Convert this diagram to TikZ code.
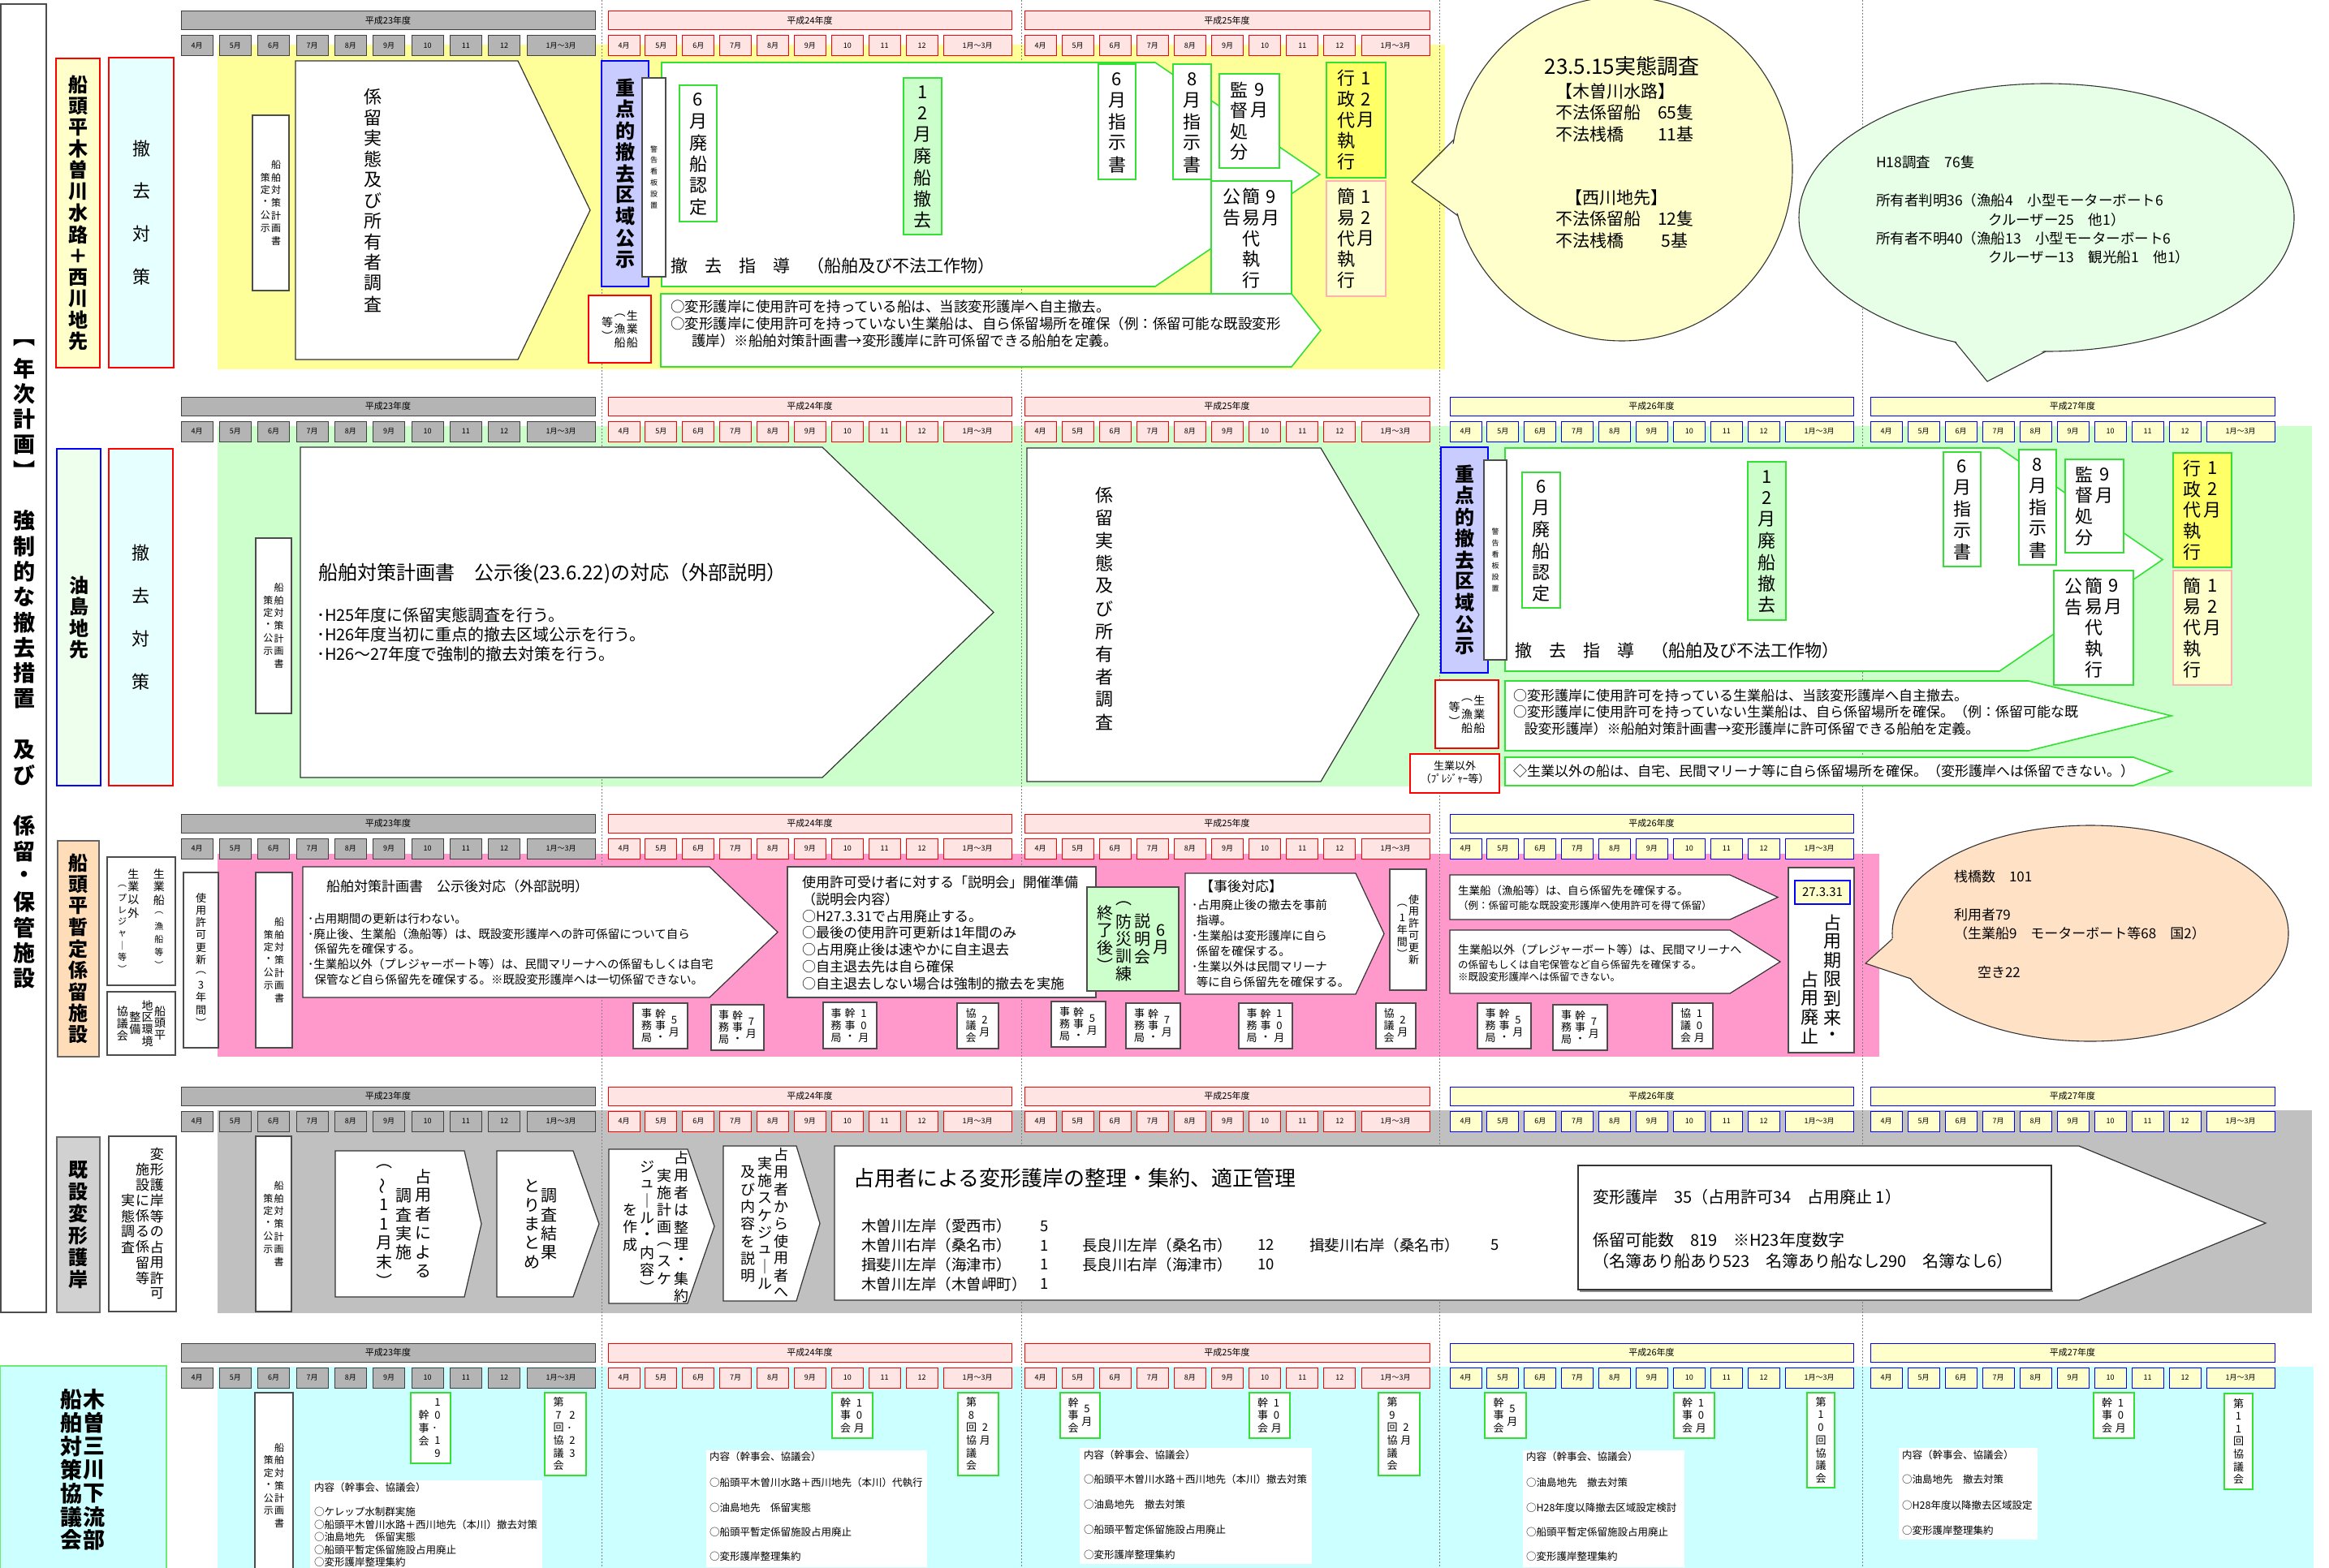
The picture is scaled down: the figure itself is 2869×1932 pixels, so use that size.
\documentclass[tikz,border=0pt]{standalone}
\usepackage{fontspec}
\usepackage{graphicx}
\setmainfont{Noto Sans CJK JP}
\definecolor{ybg}{HTML}{FFFF99}
\definecolor{gbg}{HTML}{CCFFCC}
\definecolor{pbg}{HTML}{FF99CC}
\definecolor{kbg}{HTML}{C0C0C0}
\definecolor{cbg}{HTML}{CCFFFF}
\definecolor{grn}{HTML}{33E033}
\definecolor{lcyan}{HTML}{E6FFFF}
\definecolor{lyel}{HTML}{FFFFCC}
\definecolor{lgrn}{HTML}{EEFFEE}
\definecolor{peach}{HTML}{FFDDB8}
\definecolor{lblue}{HTML}{C8CCFF}
\definecolor{ltpink}{HTML}{FFE4E4}
\definecolor{hgray}{HTML}{B4B4B4}
\definecolor{dyel}{HTML}{FFFF66}
\definecolor{pinkb}{HTML}{FFB0B0}
\definecolor{bgreen}{HTML}{E6FFE6}
\definecolor{bpeach}{HTML}{FFE2C6}
\newcommand\fs[2]{\fontsize{#1}{#2}\selectfont}
\newcommand\vcw{1.1em}
\newcommand\sm{\fs{11}{11}}
\ExplSyntaxOn
\NewDocumentCommand\VC{O{1.15}m}{
  \ensuremath{\vcenter{\offinterlineskip
    \tl_map_inline:nn{#2}{\hbox to \vcw{\hss\vbox to #1em{\vss\hbox{##1}\vss}\hss}}}}
}
\NewDocumentCommand\VT{O{1.15}m}{
  \vtop{\offinterlineskip
    \tl_map_inline:nn{#2}{\hbox to \vcw{\hss\vbox to #1em{\vss\hbox{##1}\vss}\hss}}}
}
\ExplSyntaxOff
\tikzset{
 every node/.style={inner sep=0pt, outer sep=0pt, text=black},
 bxw/.style={draw=black!70, fill=white, line width=1.1pt},
 gb/.style={draw=grn, fill=white, line width=1.6pt},
 rb/.style={draw=red, fill=white, line width=1.3pt},
 yh23/.style={draw=black!75, fill=hgray, line width=1pt},
 yh24/.style={draw=red, fill=ltpink, line width=1pt},
 yh26/.style={draw=blue, fill=lyel, line width=1pt},
 arw/.style={draw=black!80, fill=white, line width=1.2pt},
 garw/.style={draw=grn, fill=white, line width=1.6pt},
 sepl/.style={draw=black!50, dash pattern=on 2pt off 2pt, line width=0.9pt},
 bub/.style={draw=black!80, line width=1.1pt},
 ml/.style={anchor=west, align=left},
}
\newcommand\B[7][]{\node[#1, minimum width={(#5-#3)*1pt}, minimum height={(#6-#4)*1pt}] (#2) at ({(#3+#5)/2},{(#4+#6)/2}) {#7};}
\newcommand\pent[6][]{\draw[#1] (#2,#3) -- (#4,#3) -- (#5,{(#3+#6)/2}) -- (#4,#6) -- (#2,#6) -- cycle;}
\newcommand\yh[5]{%
  \node[#4, minimum width={#2*1pt}, minimum height=23pt, anchor=north west] (yr#5-#3) at (#1,#3) {\fs{11}{11}平成#5年度};
  \pgfmathsetmacro\pp{(#2-84)/9}
  \foreach \m [count=\i from 0] in {4月,5月,6月,7月,8月,9月,10,11,12} {
    \node[#4, minimum width=39pt, minimum height=25pt, anchor=north west] (m#5-#3-\i) at ({#1+\i*\pp},{#3+30}) {\fs{9}{9}\m};
  }
  \node[#4, minimum width=84pt, minimum height=25pt, anchor=north west] (m#5-#3-9) at ({#1+#2-84},{#3+30}) {\fs{9}{9}1月～3月};
}
\newcommand\plan[5]{\B[bxw]{#1}{#2}{#3}{#4}{#5}{\fs{12}{12}\VC[1.3]{策定・公示}\VC[1.3]{船舶対策計画書}}}
\newcommand\jm[6]{\B[bxw]{#1}{#2}{#3}{#4}{#5}{\fs{13}{13}\def\vcw{1.3em}\VC[1.15]{事務局}\VC[1.15]{幹事・}\VC[1.15]{#6}}}
\newcommand\kg[6]{\B[bxw]{#1}{#2}{#3}{#4}{#5}{\fs{13}{13}\def\vcw{1.3em}\VC[1.15]{協議会}\VC[1.15]{#6}}}
\newcommand\kj[6]{\B[gb]{#1}{#2}{#3}{#4}{#5}{\fs{13}{13}\def\vcw{1.3em}\VC[1.2]{幹事会}\VC[1.2]{#6}}}
\newcommand\kk[6]{\B[gb]{#1}{#2}{#3}{#4}{#5}{\fs{13}{13}\def\vcw{1.3em}\VC[1.2]{第#6回協議会}\VC[1.2]{2月}}}
\begin{document}
\begin{tikzpicture}[x=1pt,y=-1pt]
\useasboundingbox (0,0) rectangle (2869,1932);
\fill[white] (0,0) rectangle (2869,1932);
% ---------- band backgrounds
\fill[ybg] (268,55) rectangle (1780,455);
\fill[gbg] (268,525) rectangle (2848,969);
\fill[pbg] (268,1052) rectangle (2315,1302);
\fill[kbg] (268,1368) rectangle (2848,1618);
\fill[cbg] (268,1684) rectangle (2850,1932);
\foreach \sx in {741,1258,1773,2294} \draw[sepl] (\sx,0) -- (\sx,1932);
% ---------- headers
\yh{223}{510}{14}{yh23}{23}\yh{749}{497}{14}{yh24}{24}\yh{1262}{499}{14}{yh24}{25}
\yh{223}{510}{489}{yh23}{23}\yh{749}{497}{489}{yh24}{24}\yh{1262}{499}{489}{yh24}{25}\yh{1786}{497}{489}{yh26}{26}\yh{2304}{498}{489}{yh26}{27}
\yh{223}{510}{1003}{yh23}{23}\yh{749}{497}{1003}{yh24}{24}\yh{1262}{499}{1003}{yh24}{25}\yh{1786}{497}{1003}{yh26}{26}
\yh{223}{510}{1339}{yh23}{23}\yh{749}{497}{1339}{yh24}{24}\yh{1262}{499}{1339}{yh24}{25}\yh{1786}{497}{1339}{yh26}{26}\yh{2304}{498}{1339}{yh26}{27}
\yh{223}{510}{1655}{yh23}{23}\yh{749}{497}{1655}{yh24}{24}\yh{1262}{499}{1655}{yh24}{25}\yh{1786}{497}{1655}{yh26}{26}\yh{2304}{498}{1655}{yh26}{27}
% ---------- left frame
\draw[black!70, line width=1.3pt] (1,5) rectangle (57,1617);
\node (mainlab) at (30,814) {\fs{27}{27}\bfseries\VC[1.16]{︻年次計画︼~強制的な撤去措置~及び~係留・保管施設}};
% ================= ROW 1
\B[draw=red, fill=lyel, line width=1.3pt]{r1lab}{69}{72}{123}{453}{\fs{24}{24}\bfseries\VC[1.1]{船頭平木曽川水路＋西川地先}}
\B[draw=red, fill=lcyan, line width=1.3pt]{r1tai}{134}{71}{214}{453}{\fs{22}{22}\VC[2.4]{撤去対策}}
\plan{r1plan}{311}{142}{356}{358}
\pent[arw]{364}{75}{638}{727}{443}
\node (r1chosa) at (459,247) {\fs{22}{22}\VC[1.16]{係留実態及び所有者調査}};
\pent[garw]{815}{77}{1423}{1626}{353}
\B[draw=blue, fill=lblue, line width=1.3pt]{r1juten}{741}{75}{799}{353}{\fs{24}{24}\bfseries\VC[1.1]{重点的撤去区域公示}}
\B[bxw]{r1kanban}{791}{96}{820}{341}{\fs{9}{9}\VC[1.55]{警告看板設置}}
\B[gb]{r1haisen}{837}{105}{883}{273}{\fs{22}{22}\VC[1.2]{6月廃船認定}}
\B[gb, fill=gbg]{r1tekkyo}{1113}{96}{1160}{289}{\fs{22}{22}\VC[1.2]{12月廃船撤去}}
\node[anchor=west] (r1shido) at (826,328) {\fs{21}{21}撤　去　指　導　（船舶及び不法工作物）};
\B[gb]{r1shiji6}{1353}{79}{1399}{221}{\fs{22}{22}\VC[1.2]{6月指示書}}
\B[gb]{r1shiji8}{1445}{79}{1492}{221}{\fs{22}{22}\VC[1.2]{8月指示書}}
\B[gb]{r1kantoku}{1502}{91}{1576}{207}{\fs{22}{22}\VT[1.17]{監督処分}\VT[1.17]{9月}}
\B[gb]{r1kokoku}{1492}{223}{1591}{365}{\fs{22}{22}\VT[1.17]{公告}\VT[1.17]{簡易代執行}\VT[1.17]{9月}}
\B[draw=grn, fill=dyel, line width=1.6pt]{r1gyosei}{1634}{77}{1707}{219}{\fs{22}{22}\VT[1.17]{行政代執行}\VT[1.17]{12月}}
\B[draw=pinkb, fill=lyel, line width=1.3pt]{r1kani}{1634}{223}{1707}{365}{\fs{22}{22}\VT[1.17]{簡易代執行}\VT[1.17]{12月}}
\B[rb]{r1seigyo}{725}{364}{802}{447}{\fs{14}{14}\VC[1.2]{等︶}\VC[1.2]{︵漁船}\VC[1.2]{生業船}}
\pent[garw]{814}{362}{1591}{1627}{452}
\node[ml, font=\fs{17.5}{21}] (r1txt) at (826,399) {○変形護岸に使用許可を持っている船は、当該変形護岸へ自主撤去。\\○変形護岸に使用許可を持っていない生業船は、自ら係留場所を確保（例：係留可能な既設変形\\\hspace*{1.5em}護岸）※船舶対策計画書→変形護岸に許可係留できる船舶を定義。};
% bubble 1
\draw[bub, fill=lyel] (1998,208) ellipse [x radius=210pt, y radius=212pt];
\fill[lyel] (1796,172) -- (1739,224) -- (1800,266) -- cycle;
\draw[bub] (1791,172) -- (1739,224) -- (1796,266);
\node (b1t) at (1998,82) {\fs{26}{26}23.5.15実態調査};
\node[ml, font=\fs{21}{26.5}] (b1a) at (1916,138.5) {【木曽川水路】\\不法係留船　65隻\\不法桟橋　　11基};
\node[ml, font=\fs{21}{26.5}] (b1b) at (1916,269.5) {\hspace*{0.6em}【西川地先】\\不法係留船　12隻\\不法桟橋　　 5基};
% bubble 2
\draw[bub, fill=bgreen] (2521,268) ellipse [x radius=305pt, y radius=165pt];
\fill[bgreen] (2405,415) -- (2448,470) -- (2525,428) -- cycle;
\draw[bub] (2408,421) -- (2448,470) -- (2520,433);
\node[anchor=west] (b2a) at (2311,200) {\fs{17.5}{17.5}H18調査　76隻};
\node[ml, font=\fs{17.5}{23.3}] (b2b) at (2311,282) {所有者判明36（漁船4　小型モーターボート6\\\hspace*{7.9em}クルーザー25　他1）\\所有者不明40（漁船13　小型モーターボート6\\\hspace*{7.9em}クルーザー13　観光船1　他1）};
% ================= ROW 2
\B[draw=blue, fill=lgrn, line width=1.3pt]{r2lab}{70}{553}{124}{968}{\fs{24}{24}\bfseries\VC[1.1]{油島地先}}
\B[draw=red, fill=lcyan, line width=1.3pt]{r2tai}{134}{553}{213}{968}{\fs{22}{22}\VC[2.4]{撤去対策}}
\plan{r2plan}{315}{663}{359}{879}
\pent[arw]{370}{551}{1013}{1224}{958}
\node[anchor=west] (r2title) at (392,707) {\fs{24}{24}船舶対策計画書　公示後(23.6.22)の対応（外部説明）};
\node[ml, font=\fs{20}{24}] (r2bul) at (390,782) {･H25年度に係留実態調査を行う。\\･H26年度当初に重点的撤去区域公示を行う。\\･H26～27年度で強制的撤去対策を行う。};
\pent[arw]{1265}{552}{1627}{1748}{963}
\node (r2chosa) at (1360,750) {\fs{22}{22}\VC[1.27]{係留実態及び所有者調査}};
\pent[garw]{1854}{552}{2463}{2664}{827}
\B[draw=blue, fill=lblue, line width=1.3pt]{r2juten}{1775}{551}{1833}{829}{\fs{24}{24}\bfseries\VC[1.1]{重点的撤去区域公示}}
\B[bxw]{r2kanban}{1828}{567}{1856}{813}{\fs{9}{9}\VC[1.55]{警告看板設置}}
\B[gb]{r2haisen}{1875}{582}{1922}{749}{\fs{22}{22}\VC[1.2]{6月廃船認定}}
\B[gb, fill=gbg]{r2tekkyo}{2153}{569}{2200}{764}{\fs{22}{22}\VC[1.2]{12月廃船撤去}}
\node[anchor=west] (r2shido) at (1866,802) {\fs{21}{21}撤　去　指　導　（船舶及び不法工作物）};
\B[gb]{r2shiji6}{2394}{557}{2440}{698}{\fs{22}{22}\VC[1.2]{6月指示書}}
\B[gb]{r2shiji8}{2487}{554}{2533}{696}{\fs{22}{22}\VC[1.2]{8月指示書}}
\B[gb]{r2kantoku}{2544}{566}{2616}{681}{\fs{22}{22}\VT[1.17]{監督処分}\VT[1.17]{9月}}
\B[gb]{r2kokoku}{2530}{703}{2628}{844}{\fs{22}{22}\VT[1.17]{公告}\VT[1.17]{簡易代執行}\VT[1.17]{9月}}
\B[draw=grn, fill=dyel, line width=1.6pt]{r2gyosei}{2677}{558}{2749}{699}{\fs{22}{22}\VT[1.17]{行政代執行}\VT[1.17]{12月}}
\B[draw=pinkb, fill=lyel, line width=1.3pt]{r2kani}{2677}{703}{2749}{844}{\fs{22}{22}\VT[1.17]{簡易代執行}\VT[1.17]{12月}}
\B[rb]{r2seigyo}{1768}{838}{1846}{922}{\fs{14}{14}\VC[1.2]{等︶}\VC[1.2]{︵漁船}\VC[1.2]{生業船}}
\pent[garw]{1854}{839}{2499}{2675}{925}
\node[ml, font=\fs{17}{20.5}] (r2txt) at (1864,877.5) {○変形護岸に使用許可を持っている生業船は、当該変形護岸へ自主撤去。\\○変形護岸に使用許可を持っていない生業船は、自ら係留場所を確保。（例：係留可能な既\\\hspace*{0.8em}設変形護岸）※船舶対策計画書→変形護岸に許可係留できる船舶を定義。};
\B[rb]{r2other}{1737}{929}{1847}{977}{\fs{13}{15}\begin{tabular}{@{}c@{}}生業以外\\（ﾌﾟﾚｼﾞｬｰ等）\end{tabular}}
\pent[garw]{1854}{933}{2628}{2675}{968}
\node[anchor=west] (r2txt2) at (1864,950) {\fs{17}{17}◇生業以外の船は、自宅、民間マリーナ等に自ら係留場所を確保。（変形護岸へは係留できない。）};
% ================= ROW 3
\B[draw=black!60, fill=peach, line width=1.2pt]{r3lab}{71}{1036}{122}{1302}{\fs{24}{24}\bfseries\VC[1.1]{船頭平暫定係留施設}}
\B[bxw]{r3sub1}{132}{1056}{216}{1214}{{\fs{11}{11}\VT[1.33]{~︵プレジャ｜等︶}}{\fs{14}{14}\VT[1.15]{生業以外}}\hspace{16pt}{\fs{14}{14}\VT[1.15]{生業船{\sm ︵}{\sm 漁}{\sm 船}{\sm 等}{\sm ︶}}}}
\B[bxw]{r3sub2}{132}{1222}{216}{1300}{\fs{14}{14}\VC[1.07]{協議会}\VC[1.07]{整備}\VC[1.07]{地区環境}\VC[1.07]{船頭平}}
\B[bxw]{r3kyoka3}{226}{1075}{269}{1291}{\fs{13}{13}\VC[1.18]{使用許可更新︵3年間︶}}
\plan{r3plan}{315}{1075}{360}{1291}
\pent[arw]{373}{1068}{874}{958}{1229}
\node[anchor=west] (r3title) at (402,1092) {\fs{17}{17}船舶対策計画書　公示後対応（外部説明）};
\node[ml, font=\fs{14.5}{18.75}] (r3txt) at (379,1169.5) {･占用期間の更新は行わない。\\･廃止後、生業船（漁船等）は、既設変形護岸への許可係留について自ら\\\hspace*{0.6em}係留先を確保する。\\･生業船以外（プレジャーボート等）は、民間マリーナへの係留もしくは自宅\\\hspace*{0.6em}保管など自ら係留先を確保する。※既設変形護岸へは一切係留できない。};
\B[bxw]{r3setsu}{970}{1068}{1350}{1229}{}
\node[ml, font=\fs{17}{20.8}] (r3setsut) at (988,1149.5) {使用許可受け者に対する「説明会」開催準備\\（説明会内容）\\○H27.3.31で占用廃止する。\\○最後の使用許可更新は1年間のみ\\○占用廃止後は速やかに自主退去\\○自主退去先は自ら確保\\○自主退去しない場合は強制的撤去を実施};
\B[draw=black!70, fill=gbg, line width=1.2pt]{r3kunren}{1339}{1093}{1452}{1221}{\fs{20}{20}\def\vcw{1.15em}\VC[1.08]{終了後︶}\VC[1.08]{︵防災訓練}\VC[1.08]{説明会}\VC[1.08]{6月}}
\pent[arw]{1460}{1076}{1670}{1705}{1225}
\node[anchor=west] (r3zigo) at (1478,1092) {\fs{17}{17}【事後対応】};
\node[ml, font=\fs{14.5}{19}] (r3zigot) at (1468,1162.5) {･占用廃止後の撤去を事前\\\hspace*{0.4em}指導。\\･生業船は変形護岸に自ら\\\hspace*{0.4em}係留を確保する。\\･生業以外は民間マリーナ\\\hspace*{0.4em}等に自ら係留先を確保する。};
\B[bxw]{r3kyoka1}{1712}{1071}{1757}{1220}{\fs{13}{13}\VC[1.15]{︵1年間︶}\VC[1.15]{使用許可更新}}
\pent[arw]{1786}{1078}{2131}{2190}{1133}
\node[anchor=west] (r3a1) at (1796,1097) {\fs{13.5}{13.5}生業船（漁船等）は、自ら係留先を確保する。};
\node[anchor=west] (r3a2) at (1796,1116) {\fs{12.5}{12.5}（例：係留可能な既設変形護岸へ使用許可を得て係留）};
\pent[arw]{1786}{1146}{2131}{2193}{1224}
\node[anchor=west] (r3b1) at (1796,1170) {\fs{14}{14}生業船以外（プレジャーボート等）は、民間マリーナへ};
\node[ml, font=\fs{12.5}{15}] (r3b2) at (1796,1196.5) {の係留もしくは自宅保管など自ら係留先を確保する。\\※既設変形護岸へは係留できない。};
\B[bxw]{r3kigen}{2203}{1069}{2284}{1297}{}
\B[draw=blue, fill=lyel, line width=1.2pt]{r3date}{2211}{1085}{2279}{1114}{\fs{15}{15}27.3.31}
\node (r3kigent) at (2243.5,1207) {\fs{22}{22}\def\vcw{1.3em}\VT[1.06]{~~~占用廃止}\VT[1.06]{占用期限到来・}};
\jm{r3j1}{780}{1236}{847}{1292}{5月}
\jm{r3j2}{876}{1238}{941}{1294}{7月}
\jm{r3j3}{1014}{1235}{1080}{1292}{10月}
\kg{r3j4}{1179}{1236}{1230}{1292}{2月}
\jm{r3j5}{1295}{1234}{1362}{1290}{5月}
\jm{r3j6}{1387}{1236}{1454}{1292}{7月}
\jm{r3j7}{1526}{1236}{1592}{1292}{10月}
\kg{r3j8}{1695}{1236}{1744}{1292}{2月}
\jm{r3j9}{1820}{1236}{1886}{1292}{5月}
\jm{r3j10}{1913}{1238}{1980}{1294}{7月}
\kg{r3j11}{2060}{1236}{2110}{1292}{10月}
% bubble 3
\draw[bub, fill=bpeach] (2575,1150) ellipse [x radius=244pt, y radius=133pt];
\fill[bpeach] (2336,1152) -- (2298,1187) -- (2362,1208) -- cycle;
\draw[bub] (2331,1157) -- (2298,1187) -- (2354,1206);
\node[anchor=west] (b3a) at (2407,1080) {\fs{17}{17}桟橋数　101};
\node[ml, font=\fs{17}{23}] (b3b) at (2407,1138.5) {利用者79\\（生業船9　モーターボート等68　国2）};
\node[anchor=west] (b3c) at (2436,1198) {\fs{17}{17}空き22};
% ================= ROW 4
\B[draw=black!60, fill=black!18, line width=1.2pt]{r4lab}{70}{1401}{123}{1617}{\fs{24}{24}\bfseries\VC[1.12]{既設変形護岸}}
\B[bxw]{r4sub}{134}{1400}{217}{1616}{\fs{17}{17}\def\vcw{1.05em}\VC[1.12]{実態調査}\VC[1.12]{施設に係る係留等}\VC[1.12]{変形護岸等の占用許可}}
\plan{r4plan}{315}{1400}{359}{1616}
\pent[arw]{413}{1418}{572}{593}{1598}
\node (r4t1) at (497,1508) {\fs{20}{20}\def\vcw{1.2em}\VC[1.17]{︵{\rotatebox{90}{～}}11月末︶}\VC[1.17]{調査実施}\VC[1.17]{占用者による}};
\pent[arw]{612}{1418}{706}{738}{1598}
\node (r4t2) at (666,1508) {\fs{20}{20}\def\vcw{1.05em}\VC[1.17]{とりまとめ}\VC[1.17]{調査結果}};
\pent[arw]{750}{1416}{847}{880}{1606}
\node (r4t3) at (808,1512) {\fs{18}{18}\def\vcw{1.15em}\VC[1.18]{を作成}\VC[1.18]{ジュ｜ル・内容︶}\VC[1.18]{実施計画︵スケ}\VC[1.18]{占用者は整理・集約}};
\pent[arw]{891}{1412}{981}{1010}{1603}
\node (r4t4) at (942,1508) {\fs{18}{18}\def\vcw{1.12em}\VC[1.18]{及び内容を説明}\VC[1.18]{実施スケジュ｜ル}\VC[1.18]{占用者から使用者へ}};
\pent[arw]{1028}{1412}{2561}{2791}{1602}
\node[anchor=west] (r4title) at (1051,1452) {\fs{26}{26}占用者による変形護岸の整理・集約、適正管理};
\node[ml, font=\fs{18.5}{23.7}] (r4l1) at (1061,1546.5) {木曽川左岸（愛西市）\\木曽川右岸（桑名市）\\揖斐川左岸（海津市）\\木曽川左岸（木曽岬町）};
\node[ml, font=\fs{18.5}{23.7}] (r4n1) at (1281,1546.5) {5\\1\\1\\1};
\node[ml, font=\fs{18.5}{24}] (r4l2) at (1333,1546) {長良川左岸（桑名市）\\長良川右岸（海津市）};
\node[ml, font=\fs{18.5}{24}] (r4n2) at (1549,1546) {12\\10};
\node[anchor=west] (r4l3) at (1613,1534) {\fs{18.5}{18.5}揖斐川右岸（桑名市）};
\node[anchor=west] (r4n3) at (1836,1534) {\fs{18.5}{18.5}5};
\draw[black!45, line width=2.5pt] (1946,1591) -- (2529,1591);
\B[draw=black!80, fill=white, line width=1.2pt]{r4box}{1944}{1436}{2527}{1589}{}
\node[anchor=west] (r4b1) at (1962,1475) {\fs{20}{20}変形護岸　35（占用許可34　占用廃止 1）};
\node[ml, font=\fs{20}{26}] (r4b2) at (1962,1541) {係留可能数　819　※H23年度数字\\（名簿あり船あり523　名簿あり船なし290　名簿なし6）};
% ================= ROW 5
\B[draw=grn!70, fill=cbg, line width=1.4pt]{r5lab}{0}{1683}{205}{1945}{}
\node (r5labt) at (102,1811) {\fs{27}{27}\bfseries\def\vcw{1.05em}\VC[1.07]{船舶対策協議会}\VC[1.07]{木曽三川下流部}};
\B[bxw]{r5plan}{314}{1716}{361}{1945}{\fs{12}{12}\VC[1.3]{策定・公示}\VC[1.3]{船舶対策計画書}}
\kj{r5k1}{506}{1716}{555}{1803}{10．19}
\B[gb]{r5k2}{671}{1716}{722}{1818}{\fs{13}{13}\def\vcw{1.3em}\VC[1.2]{第7回協議会}\VC[1.2]{2．23}}
\kj{r5k3}{1025}{1716}{1075}{1772}{10月}
\kk{r5k4}{1180}{1716}{1230}{1818}{8}
\kj{r5k5}{1306}{1716}{1355}{1772}{5月}
\kj{r5k6}{1539}{1716}{1589}{1772}{10月}
\kk{r5k7}{1698}{1716}{1749}{1818}{9}
\kj{r5k8}{1829}{1716}{1880}{1772}{5月}
\kj{r5k9}{2062}{1716}{2112}{1772}{10月}
\B[gb]{r5k10}{2226}{1716}{2260}{1833}{\fs{13}{13}\VC[1.2]{第10回協議会}}
\kj{r5k11}{2579}{1716}{2629}{1772}{10月}
\B[gb]{r5k12}{2740}{1717}{2775}{1835}{\fs{13}{13}\VC[1.2]{第11回協議会}}
\B[draw=none, fill=white]{r5c1}{382}{1824}{668}{1945}{}
\node[anchor=west] (r5c1t) at (387,1833) {\fs{12.5}{12.5}内容（幹事会、協議会）};
\node[ml, font=\fs{12.5}{15.5}] (r5c1l) at (387,1894) {○ケレップ水制群実施\\○船頭平木曽川水路＋西川地先（本川）撤去対策\\○油島地先　係留実態\\○船頭平暫定係留施設占用廃止\\○変形護岸整理集約};
\B[draw=none, fill=white]{r5c2}{870}{1787}{1142}{1931}{}
\node[anchor=west] (r5c2t) at (874,1795) {\fs{12.5}{12.5}内容（幹事会、協議会）};
\node[ml, font=\fs{12.5}{30.3}] (r5c2l) at (874,1872.5) {○船頭平木曽川水路＋西川地先（本川）代執行\\○油島地先　係留実態\\○船頭平暫定係留施設占用廃止\\○変形護岸整理集約};
\B[draw=none, fill=white]{r5c3}{1330}{1784}{1616}{1927}{}
\node[anchor=west] (r5c3t) at (1335,1793) {\fs{12.5}{12.5}内容（幹事会、協議会）};
\node[ml, font=\fs{12.5}{31}] (r5c3l) at (1335,1869.5) {○船頭平木曽川水路＋西川地先（本川）撤去対策\\○油島地先　撤去対策\\○船頭平暫定係留施設占用廃止\\○変形護岸整理集約};
\B[draw=none, fill=white]{r5c4}{1876}{1787}{2075}{1931}{}
\node[anchor=west] (r5c4t) at (1880,1795) {\fs{12.5}{12.5}内容（幹事会、協議会）};
\node[ml, font=\fs{12.5}{30.3}] (r5c4l) at (1880,1872.5) {○油島地先　撤去対策\\○H28年度以降撤去区域設定検討\\○船頭平暫定係留施設占用廃止\\○変形護岸整理集約};
\B[draw=none, fill=white]{r5c5}{2339}{1784}{2510}{1897}{}
\node[anchor=west] (r5c5t) at (2343,1793) {\fs{12.5}{12.5}内容（幹事会、協議会）};
\node[ml, font=\fs{12.5}{31.5}] (r5c5l) at (2343,1854.5) {○油島地先　撤去対策\\○H28年度以降撤去区域設定\\○変形護岸整理集約};
\end{tikzpicture}
\end{document}
